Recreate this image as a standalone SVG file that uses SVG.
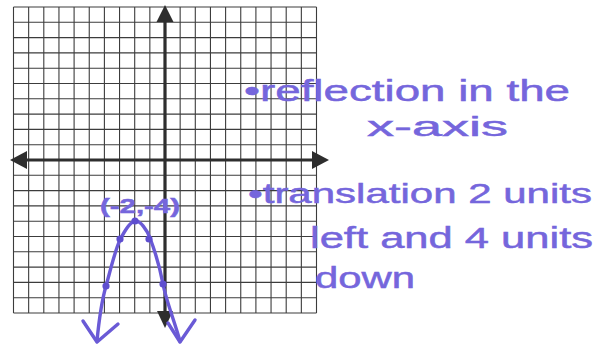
<svg xmlns="http://www.w3.org/2000/svg" width="608" height="346" viewBox="0 0 608 346">
<style>
.grid{stroke:#3c3c3c;stroke-width:1.1;fill:none}
.axis{stroke:#2e2e2e;stroke-width:3.2;fill:none}
.head{fill:#2e2e2e}
.ink{stroke:#6a5ad6;stroke-width:3.4;fill:none;stroke-linecap:round;stroke-linejoin:round}
.dot{fill:#5e4ecf}
.hw{fill:#7566dc;stroke:#7566dc;stroke-width:0.5;font-family:"Liberation Sans","DejaVu Sans",sans-serif}
</style>
<rect width="608" height="346" fill="#ffffff"/>
<g id="grid" class="grid">
<path d="M13.5,7V313M28.65,7V313M43.8,7V313M58.95,7V313M74.1,7V313M89.25,7V313M104.4,7V313M119.55,7V313M134.7,7V313M149.85,7V313M180.15,7V313M195.3,7V313M210.45,7V313M225.6,7V313M240.75,7V313M255.9,7V313M271.05,7V313M286.2,7V313M301.35,7V313M316.5,7V313"/>
<path d="M13.5,7H316.5M13.5,22.3H316.5M13.5,37.6H316.5M13.5,52.9H316.5M13.5,68.2H316.5M13.5,83.5H316.5M13.5,98.8H316.5M13.5,114.1H316.5M13.5,129.4H316.5M13.5,144.7H316.5M13.5,175.3H316.5M13.5,190.6H316.5M13.5,205.9H316.5M13.5,221.2H316.5M13.5,236.5H316.5M13.5,251.8H316.5M13.5,267.1H316.5M13.5,282.4H316.5M13.5,297.7H316.5M13.5,313H316.5"/>
</g>
<g id="axes">
<path class="axis" d="M24,160H315M165,20V314"/>
<polygon class="head" points="10,160 27,151 27,169"/>
<polygon class="head" points="329,160 312,151 312,169"/>
<polygon class="head" points="165,5 156.5,22 173.5,22"/>
<polygon class="head" points="165,328 157,311 173,311"/>
</g>
<g id="parabola">
<path class="ink" d="M97,341 C99,320 102,300 106,286 S115,250 120,240 S130,222 135,221 S147,230 150,238 S160,268 163,284 S174,320 180,341"/>
<path class="ink" d="M83,321 L97,342 L118,324"/>
<path class="ink" d="M168,323 L180,342 L195,320"/>
<circle class="dot" cx="135" cy="221" r="3.6"/>
<circle class="dot" cx="120" cy="239" r="3.6"/>
<circle class="dot" cx="149" cy="239" r="3.6"/>
<circle class="dot" cx="106" cy="286" r="3.6"/>
<circle class="dot" cx="163" cy="284" r="3.6"/>
<text class="hw" x="100" y="213" font-size="21" font-weight="bold" textLength="80" lengthAdjust="spacingAndGlyphs">(-2,-4)</text>
</g>
<g id="notes">
<text class="hw" x="244" y="101" font-size="30" textLength="326" lengthAdjust="spacingAndGlyphs">•reflection in the</text>
<text class="hw" x="367" y="136" font-size="28" textLength="141" lengthAdjust="spacingAndGlyphs">x-axis</text>
<text class="hw" x="248" y="203" font-size="28" textLength="344" lengthAdjust="spacingAndGlyphs">•translation 2 units</text>
<text class="hw" x="310" y="248" font-size="30" textLength="283" lengthAdjust="spacingAndGlyphs">left and 4 units</text>
<text class="hw" x="315" y="288" font-size="30" textLength="100" lengthAdjust="spacingAndGlyphs">down</text>
</g>
</svg>
